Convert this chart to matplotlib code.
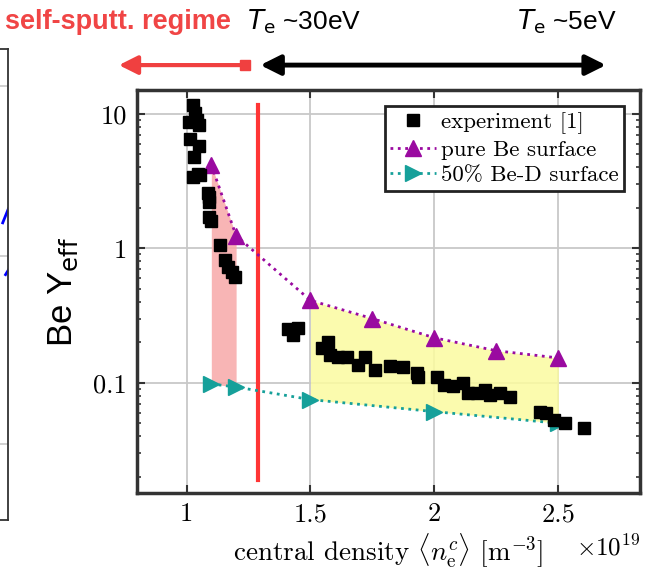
import matplotlib
matplotlib.use('Agg')
import matplotlib.pyplot as plt
from matplotlib.lines import Line2D
from matplotlib.ticker import FixedLocator, LogLocator, NullFormatter

# experiment data (density in 1e19 m^-3, effective yield)
exp_x = [1.028, 1.036, 1.008, 1.044, 1.050, 1.012, 1.052, 1.032, 1.028, 1.048, 1.056,
         1.088, 1.090, 1.092, 1.090, 1.098, 1.133, 1.157, 1.169, 1.185, 1.197,
         1.41, 1.45, 1.43,
         1.547, 1.571, 1.579, 1.611, 1.648, 1.692, 1.72, 1.76, 1.82, 1.873, 1.929, 1.933,
         2.01, 2.04, 2.074, 2.114, 2.134, 2.17, 2.203, 2.223, 2.263, 2.303,
         2.424, 2.452, 2.484, 2.525, 2.605]
exp_y = [11.7, 10.2, 8.7, 9.0, 8.3, 6.5, 5.8, 4.8, 3.4, 3.6, 3.5,
         2.6, 2.4, 2.2, 1.7, 1.6, 1.06, 0.82, 0.73, 0.67, 0.61,
         0.25, 0.255, 0.225,
         0.182, 0.20, 0.162, 0.156, 0.156, 0.136, 0.156, 0.125, 0.134, 0.131, 0.119, 0.111,
         0.111, 0.097, 0.095, 0.10, 0.084, 0.084, 0.089, 0.081, 0.084, 0.078,
         0.061, 0.060, 0.053, 0.050, 0.046]

# model curves
model_x = [1.1, 1.2, 1.5, 1.75, 2.0, 2.25, 2.5]
pure_be = [4.18, 1.24, 0.41, 0.30, 0.216, 0.173, 0.153]
bed_x = [1.1, 1.2, 1.5, 2.0, 2.5]
bed_y = [0.098, 0.093, 0.075, 0.061, 0.050]

# vertical marker of the self-sputtering boundary
boundary_x = 1.29
boundary_y = [11.7, 0.019]

purple = '#9a0aa0'
teal = '#16a09a'

plt.rcParams['mathtext.fontset'] = 'cm'

fig = plt.figure(figsize=(6.46, 5.71), dpi=100)
ax = fig.add_axes([0.212, 0.137, 0.779, 0.705])

# shaded bands between the two model curves
ax.fill_between([1.1, 1.2], [4.18, 1.24], [0.098, 0.093], color='#f7a8a8', alpha=0.85, lw=0, zorder=1)
ax.fill_between(model_x[2:], pure_be[2:], [0.075, 0.0675, 0.061, 0.0555, 0.050],
                color='#fbfba0', alpha=0.85, lw=0, zorder=1)

ax.plot([boundary_x, boundary_x], boundary_y, color='#ff3535', lw=3, zorder=2)

ax.plot(exp_x, exp_y, 's', color='black', ms=8, ls='none', label='experiment [1]', zorder=4)
ax.plot(model_x, pure_be, ':', marker='^', color=purple, ms=11, lw=2, label='pure Be surface', zorder=3)
ax.plot(bed_x, bed_y, ':', marker='>', color=teal, ms=11, lw=2, label='50% Be-D surface', zorder=3)

ax.set_yscale('log')
ax.set_xlim(0.8, 2.83)
ax.set_ylim(0.0152, 15)
ax.xaxis.set_major_locator(FixedLocator([1, 1.5, 2, 2.5]))
ax.set_xticklabels(['1', '1.5', '2', '2.5'], fontsize=19, fontfamily='cmr10')
ax.yaxis.set_major_locator(FixedLocator([0.1, 1, 10]))
ax.set_yticklabels(['0.1', '1', '10'], fontsize=19, fontfamily='cmr10')
ax.yaxis.set_minor_locator(LogLocator(base=10, subs=range(2, 10)))
ax.yaxis.set_minor_formatter(NullFormatter())
ax.grid(True, which='major', color='#c8c8c8', lw=1.3)
ax.set_axisbelow(True)
ax.tick_params(which='both', direction='in', top=True, right=True, color='#333333')
ax.tick_params(which='major', length=6, width=1.5, pad=7)
ax.tick_params(which='minor', length=3, width=1.2)
for sp in ax.spines.values():
    sp.set_linewidth(2.5)
    sp.set_color('#333333')

ax.set_xlabel(r'central density $\langle n_{\rm e}^{c}\rangle$ [m$^{-3}$]', fontsize=19.5,
              fontfamily='cmr10', labelpad=4)
ax.text(1.0, -0.136, r'$\times10^{19}$', transform=ax.transAxes, fontsize=18, ha='right', va='center')
ax.set_ylabel(r'Be Y$_{\rm eff}$', fontsize=25, fontfamily='Liberation Sans', labelpad=10)
ax.yaxis.label.set_math_fontfamily('dejavusans')

leg = ax.legend(loc='upper right', prop={'family': 'cmr10', 'size': 16.5}, fancybox=False,
                framealpha=1, edgecolor='#222222', handlelength=2.0, handletextpad=0.2,
                labelspacing=0.25, borderpad=0.25, borderaxespad=0.7)
leg.get_frame().set_linewidth(2)

# annotations above the axes
fig.text(0.008, 0.962, 'self-sputt. regime', color='#f04545', fontsize=19.5, fontweight='bold',
         fontfamily='Liberation Sans', va='center')
t1 = fig.text(0.383, 0.962, r'$T_{\rm e}$ ~30eV', fontsize=19, fontfamily='Liberation Sans', va='center')
t2 = fig.text(0.80, 0.962, r'$T_{\rm e}$ ~5eV', fontsize=19, fontfamily='Liberation Sans', va='center')
for t in (t1, t2):
    t.set_math_fontfamily('dejavusans')
ax.annotate('', xy=(0.184, 0.886), xytext=(0.379, 0.886), xycoords='figure fraction',
            annotation_clip=False,
            arrowprops=dict(arrowstyle='-|>', lw=3, color='#f04040', mutation_scale=28, shrinkA=0, shrinkB=0))
fig.add_artist(Line2D([0.379], [0.886], marker='s', ms=7, color='#f04040', transform=fig.transFigure))
ax.annotate('', xy=(0.938, 0.886), xytext=(0.403, 0.886), xycoords='figure fraction',
            annotation_clip=False,
            arrowprops=dict(arrowstyle='<|-|>', lw=3.5, color='black', mutation_scale=30, shrinkA=0, shrinkB=0))

# cut-off neighbour panel on the left edge
side = fig.add_axes([-0.05, 0.09, 0.063, 0.825])
side.set_xlim(0, 1)
side.set_ylim(0, 1)
side.set_xticks([])
side.set_yticks([0.16, 0.56, 0.92])
side.tick_params(length=0, labelleft=False)
side.grid(True, axis='y', color='#c8c8c8', lw=1.2)
side.plot([0.86, 1.0], [0.63, 0.66], color='blue', lw=2)
side.plot([0.93, 1.0], [0.52, 0.53], color='blue', lw=2)
for sp in side.spines.values():
    sp.set_linewidth(1.3)
    sp.set_color('#333333')

fig.savefig('out.png', dpi=100)
